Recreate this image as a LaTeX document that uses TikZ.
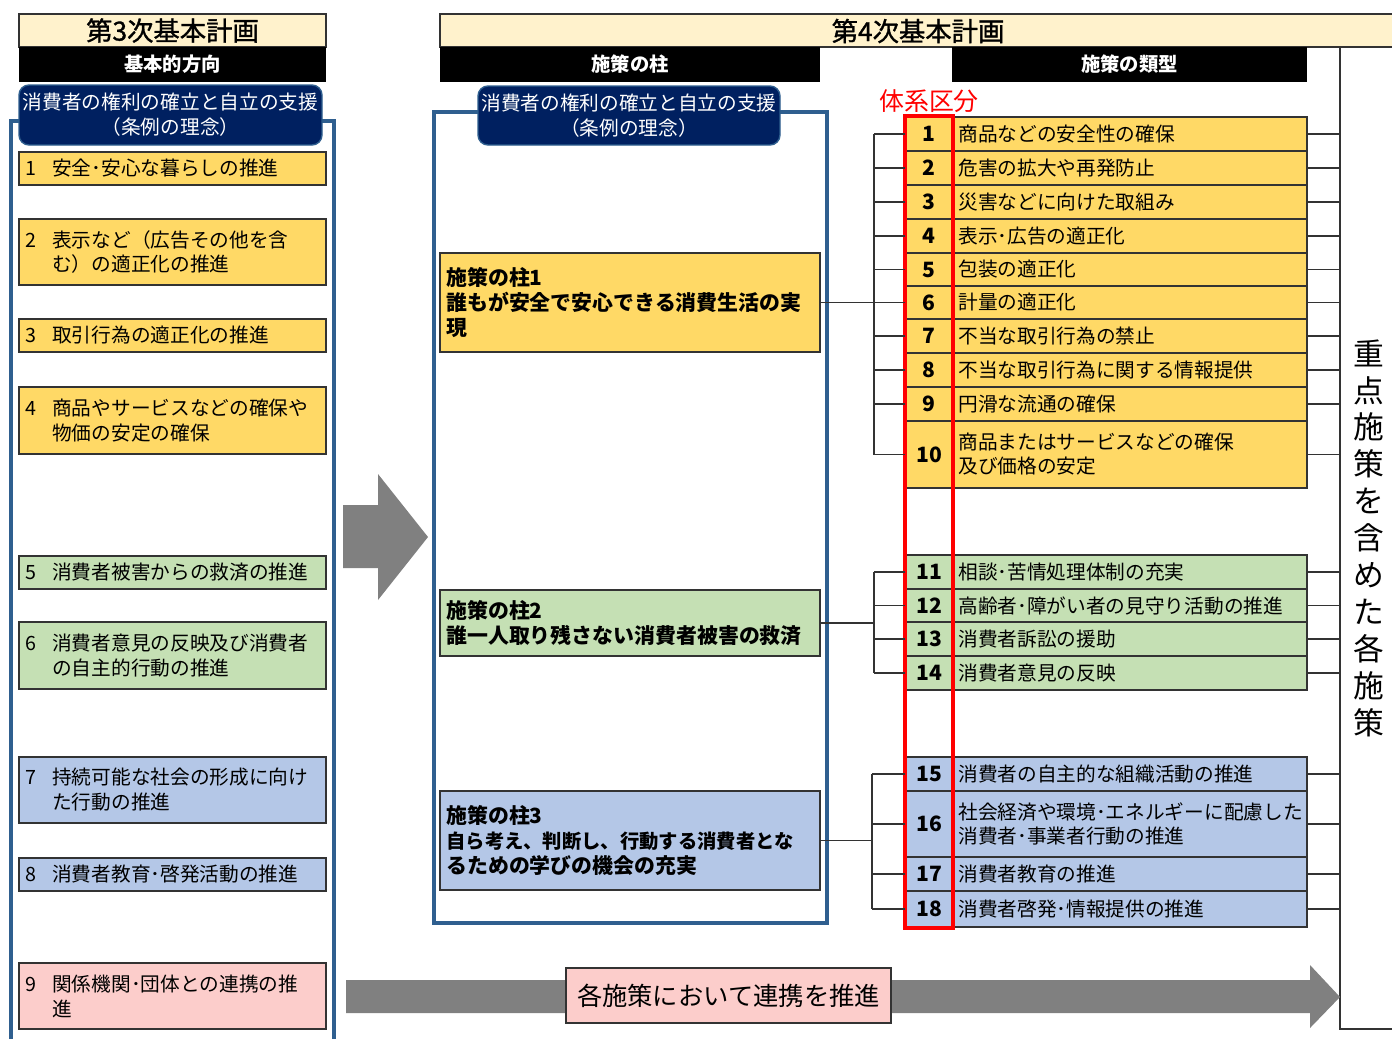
\documentclass[tikz,border=0pt]{standalone}
\usepackage{fontspec}
\setmainfont{Noto Sans CJK JP}
\newfontfamily\semib[FakeBold=1.2]{Noto Sans CJK JP}
\usetikzlibrary{fit,calc}
\definecolor{cream}{HTML}{FFF2CC}
\definecolor{yel}{HTML}{FFD966}
\definecolor{grn}{HTML}{C5E0B4}
\definecolor{blu}{HTML}{B4C7E7}
\definecolor{pnk}{HTML}{FCCDCB}
\definecolor{navy}{HTML}{002060}
\definecolor{frameblue}{HTML}{2F5F8F}
\definecolor{agray}{HTML}{808080}
\definecolor{edge}{HTML}{333333}
\newlength\pxu \setlength\pxu{0.02cm}
\newcommand\fs[2]{\fontsize{#1pt}{#2pt}\selectfont}
\newcommand\nb[1]{\makebox[1.37em][l]{#1}}
\newcommand\ind{\hspace*{1.37em}}
\tikzset{
 box/.style={draw=edge, line width=0.7pt, inner sep=0pt, outer sep=0pt},
 plainbox/.style={inner sep=0pt, outer sep=0pt},
 navybox/.style={fill=navy, draw=frameblue, line width=0.8pt, rounded corners=0.2cm, inner sep=0pt, outer sep=0pt},
 framestyle/.style={draw=frameblue, line width=1.8pt},
 conn/.style={draw=edge, line width=0.7pt},
 btxt/.style={inner sep=0pt, align=left, anchor=west, font=\fs{11.2}{14.2}},
 rtxt/.style={inner sep=0pt, align=left, anchor=west, font=\fs{11.2}{13.7}},
 ntxt/.style={inner sep=0pt, font=\fs{12}{14}\bfseries},
 ptxt/.style={inner sep=0pt, align=left, anchor=west, font=\fs{11.9}{14.2}\bfseries},
 ntitle/.style={inner sep=0pt, text=white, align=center, font=\fs{11.2}{14.2}},
 barbox/.style={fill=black, inner sep=0pt, outer sep=0pt},
 bartxt/.style={text=white, inner sep=0pt, font=\fs{11}{14}\bfseries},
 hdrtxt/.style={inner sep=0pt, font=\semib\fs{15}{18}},
}
% left box: name, y1, y2, fill, text
\newcommand\lb[5]{%
 \node[box, fill=#4, fit={(19,#2) (326,#3)}] (#1) {};
 \node[btxt] (#1t) at ([xshift=6\pxu]#1.west) {#5};}
% right row: number, y1, y2, fill, text
\newcommand\rw[5]{%
 \node[box, fill=#4, fit={(905,#2) (953,#3)}] (r#1) {};
 \node[ntxt] (rn#1) at (r#1.center) {#1};
 \node[box, fill=#4, fit={(953,#2) (1307,#3)}] (t#1) {};
 \node[rtxt] (tt#1) at ([xshift=5\pxu]t#1.west) {#5};}
\begin{document}
\begin{tikzpicture}[x=0.02cm, y=-0.02cm]
\useasboundingbox (0,0) rectangle (1392,1039);
\fill[white] (0,0) rectangle (1392,1039);

% ===== left column (3rd plan) =====
\draw[framestyle] (11,1039) -- (11,121) -- (334,121) -- (334,1039);
\node[box, fill=cream, fit={(19,14) (326,47)}] (h3) {};
\node[hdrtxt] (h3t) at (h3.center) {第3次基本計画};
\node[barbox, fit={(19,47) (326,82)}] (b3) {};
\node[bartxt] (b3t) at (b3.center) {基本的方向};
\node[navybox, fit={(19,85) (322,145)}] (n3) {};
\node[ntitle] (n3t) at (n3.center) {消費者の権利の確立と自立の支援\\（条例の理念）};

\lb{L1}{152}{185}{yel}{\nb{1}安全･安心な暮らしの推進}
\lb{L2}{219}{285}{yel}{\nb{2}表示など（広告その他を含\\\ind む）の適正化の推進}
\lb{L3}{319}{352}{yel}{\nb{3}取引行為の適正化の推進}
\lb{L4}{387}{454}{yel}{\nb{4}商品やサービスなどの確保や\\\ind 物価の安定の確保}
\lb{L5}{556}{589}{grn}{\nb{5}消費者被害からの救済の推進}
\lb{L6}{622}{689}{grn}{\nb{6}消費者意見の反映及び消費者\\\ind の自主的行動の推進}
\lb{L7}{757}{823}{blu}{\nb{7}持続可能な社会の形成に向け\\\ind た行動の推進}
\lb{L8}{858}{891}{blu}{\nb{8}消費者教育･啓発活動の推進}
\lb{L9}{963}{1029}{pnk}{\nb{9}関係機関･団体との連携の推\\\ind 進}

% big gray arrow
\fill[agray] (343,505) -- (378,505) -- (378,474) -- (428,537) -- (378,600) -- (378,568) -- (343,568) -- cycle;

% ===== 4th plan =====
\node[plainbox, fill=cream, fit={(440,14) (1392,47)}] (h4) {};
\draw[conn] (1392,14) -- (440,14) -- (440,47) -- (1392,47);
\node[hdrtxt] (h4t) at (918,31) {第4次基本計画};
\node[barbox, fit={(440,47) (820,82)}] (b4a) {};
\node[bartxt] (b4at) at (b4a.center) {施策の柱};
\node[barbox, fit={(952,47) (1307,82)}] (b4b) {};
\node[bartxt] (b4bt) at (b4b.center) {施策の類型};

\draw[framestyle] (434,112) rectangle (827,923);
\node[navybox, fit={(478,86) (780,145)}] (n4) {};
\node[ntitle] (n4t) at (n4.center) {消費者の権利の確立と自立の支援\\（条例の理念）};

\node[box, fill=yel, fit={(440,253) (820,352)}] (P1) {};
\node[ptxt] (P1t) at ([xshift=6\pxu]P1.west) {施策の柱1\\誰もが安全で安心できる消費生活の実\\現};
\node[box, fill=grn, fit={(440,590) (820,656)}] (P2) {};
\node[ptxt] (P2t) at ([xshift=6\pxu]P2.west) {施策の柱2\\誰一人取り残さない消費者被害の救済};
\node[box, fill=blu, fit={(440,791) (820,890)}] (P3) {};
\node[ptxt] (P3t) at ([xshift=6\pxu]P3.west) {施策の柱3\\{\fs{11}{14.2}\bfseries 自ら考え、判断し、行動する消費者とな}\\るための学びの機会の充実};

\node[inner sep=0pt, text=red, font=\fs{14.2}{16}] (kubun) at (929,101) {体系区分};

\rw{1}{117}{151}{yel}{商品などの安全性の確保}
\rw{2}{151}{185}{yel}{危害の拡大や再発防止}
\rw{3}{185}{219}{yel}{災害などに向けた取組み}
\rw{4}{219}{253}{yel}{表示･広告の適正化}
\rw{5}{253}{286}{yel}{包装の適正化}
\rw{6}{286}{319}{yel}{計量の適正化}
\rw{7}{319}{353}{yel}{不当な取引行為の禁止}
\rw{8}{353}{387}{yel}{不当な取引行為に関する情報提供}
\rw{9}{387}{421}{yel}{円滑な流通の確保}
\rw{10}{421}{488}{yel}{商品またはサービスなどの確保\\及び価格の安定}
\rw{11}{555}{589}{grn}{相談･苦情処理体制の充実}
\rw{12}{589}{622}{grn}{高齢者･障がい者の見守り活動の推進}
\rw{13}{622}{656}{grn}{消費者訴訟の援助}
\rw{14}{656}{690}{grn}{消費者意見の反映}
\rw{15}{757}{791}{blu}{消費者の自主的な組織活動の推進}
\rw{16}{791}{857}{blu}{社会経済や環境･エネルギーに配慮した\\消費者･事業者行動の推進}
\rw{17}{857}{891}{blu}{消費者教育の推進}
\rw{18}{891}{927}{blu}{消費者啓発･情報提供の推進}

\node[draw=red, line width=1.8pt, inner sep=0pt, outer sep=0pt, fit={(905,116) (953,928)}] (redframe) {};

% left brackets
\coordinate (yl) at (874,0);
\coordinate (gl) at (874,0);
\coordinate (bl) at (872,0);
\draw[conn] (r1.west -| yl) -- (r10.west -| yl);
\foreach \i in {1,...,10}{\draw[conn] (r\i.west) -- (r\i.west -| yl);}
\draw[conn] (P1.east) -- (P1.east -| yl);
\draw[conn] (r11.west -| gl) -- (r14.west -| gl);
\foreach \i in {11,...,14}{\draw[conn] (r\i.west) -- (r\i.west -| gl);}
\draw[conn] (P2.east) -- (P2.east -| gl);
\draw[conn] (r15.west -| bl) -- (r18.west -| bl);
\foreach \i in {15,...,18}{\draw[conn] (r\i.west) -- (r\i.west -| bl);}
\draw[conn] (P3.east) -- (P3.east -| bl);

% right side
\coordinate (rb) at (1340,0);
\foreach \i in {1,...,18}{\draw[conn] (t\i.east) -- (t\i.east -| rb);}
\coordinate (sT) at (1340,47);
\coordinate (sB) at (1340,1029);
\coordinate (sE) at (1392,1029);
\draw[conn] (sT) -- (sB) -- (sE);
\node[inner sep=0pt, align=center, font=\fs{17.5}{21}] (side) at (1369,538) {重\\点\\施\\策\\を\\含\\め\\た\\各\\施\\策};

% bottom arrow
\fill[agray] (346,980) -- (1310,980) -- (1310,965) -- (1340,997) -- (1310,1028) -- (1310,1013) -- (346,1013) -- cycle;
\node[box, fill=pnk, fit={(566,968) (891,1023)}] (lab) {};
\node[inner sep=0pt, font=\fs{14.4}{18}] (labt) at (lab.center) {各施策において連携を推進};
\end{tikzpicture}
\end{document}
